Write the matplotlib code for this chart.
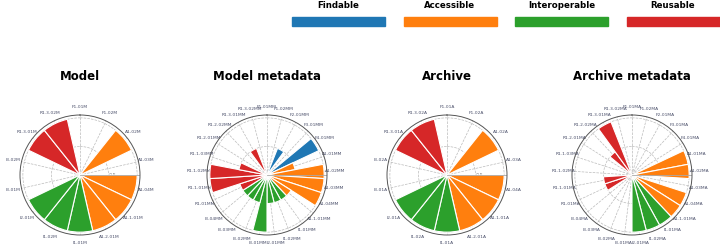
import numpy as np
import matplotlib.pyplot as plt
from matplotlib.patches import Rectangle

# FAIR colours
colors = {'F': '#1f77b4', 'A': '#ff7f0e', 'I': '#2ca02c', 'R': '#d62728'}
legend_names = ['Findable', 'Accessible', 'Interoperable', 'Reusable']

# indicators for the objects and for their metadata
obj_ids = ['F1-01', 'F1-02', 'A1-02', 'A1-03', 'A1-04', 'A1.1-01', 'A1.2-01',
           'I1-01', 'I1-02', 'I2-01', 'I3-01', 'I3-02', 'R1.3-01', 'R1.3-02']
meta_ids = ['F1-01', 'F1-02', 'F2-01', 'F3-01', 'F4-01',
            'A1-01', 'A1-02', 'A1-03', 'A1-04', 'A1.1-01',
            'I1-01', 'I1-02', 'I2-01', 'I3-01', 'I3-02', 'I3-03', 'I3-04',
            'R1-01', 'R1.1-01', 'R1.1-02', 'R1.1-03', 'R1.2-01', 'R1.2-02',
            'R1.3-01', 'R1.3-02']

model_scores = [0, 0, 1, 0, 1, 1, 1, 1, 1, 1, 0, 0, 1, 1]
model_meta_scores = [0, 0, 0.5, 0, 1, 0.5, 1, 1, 1, 0.5, 0.5, 0.5, 0.5,
                     1, 0.5, 0.5, 0.5, 0.5, 1, 1, 0.5, 0, 0, 0.5, 0]
archive_scores = [0, 0, 1, 0, 1, 1, 1, 1, 1, 1, 0, 0, 1, 1]
archive_meta_scores = [0, 0, 0, 0, 0, 1, 1, 0, 1, 1, 1, 1, 1, 0, 0, 0,
                       0, 0.5, 0.5, 0, 0, 0, 0.5, 1, 0]

panels = [('Model', obj_ids, 'M', model_scores),
          ('Model metadata', meta_ids, 'MM', model_meta_scores),
          ('Archive', obj_ids, 'A', archive_scores),
          ('Archive metadata', meta_ids, 'MA', archive_meta_scores)]

fig = plt.figure(figsize=(7.2, 2.46), dpi=100)

centers_x = [80, 267, 447, 632]
for (title, ids, suffix, scores), cx in zip(panels, centers_x):
    size = 120 / 720
    ax = fig.add_axes([cx / 720 - size / 2, (246 - 175) / 246 - 120 / 246 / 2,
                       size, 120 / 246], projection='polar')
    n = len(ids)
    theta = np.linspace(0, 2 * np.pi, n, endpoint=False)
    cols = [colors[i[0]] for i in ids]
    ax.set_theta_offset(np.pi / 2)
    ax.set_theta_direction(-1)
    ax.set_axisbelow(True)
    ax.bar(theta, scores, width=2 * np.pi / n, color=cols,
           edgecolor='white', linewidth=0.8)
    # radial line where the r labels sit
    ax.plot([np.pi / 2, np.pi / 2], [0, 1.05], color='#aaaaaa', lw=0.6)
    ax.set_ylim(0, 1.05)
    ax.set_yticks([0.5, 1.0])
    ax.set_yticklabels(['0.5', ''], fontsize=3.5, color='#777777')
    ax.set_rlabel_position(97)
    ax.set_xticks(theta)
    ax.set_xticklabels([i + suffix for i in ids], fontsize=3.2,
                       color='#4a4f6a')
    ax.tick_params(axis='x', pad=-3, length=2, width=0.5)
    ax.grid(True, color='#bbbbbb', linestyle='--', linewidth=0.5)
    ax.spines['polar'].set_color('#555555')
    ax.spines['polar'].set_linewidth(0.7)
    ax.set_title(title, fontsize=8.5, fontweight='bold', pad=25)

# legend: names above coloured strips
for k, (name, key) in enumerate(zip(legend_names, 'FAIR')):
    x0 = 292 + k * 111.5
    fig.add_artist(Rectangle((x0 / 720, 1 - 26 / 246), 93 / 720, 9 / 246,
                             transform=fig.transFigure, color=colors[key]))
    fig.text((x0 + 46.5) / 720, 1 - 5 / 246, name, ha='center', va='center',
             fontsize=6.2, fontweight='bold')

fig.savefig('out.png', dpi=100)
